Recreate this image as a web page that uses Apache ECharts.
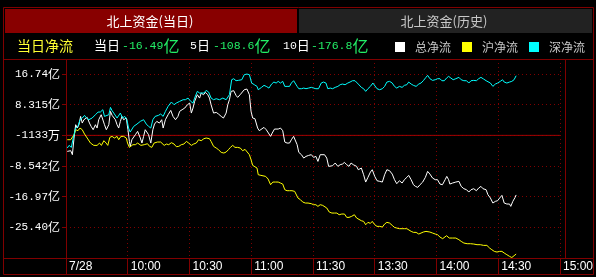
<!DOCTYPE html>
<html><head><meta charset="utf-8">
<script src="https://cdn.jsdelivr.net/npm/echarts@6/dist/echarts.min.js"></script>
<style>html,body{margin:0;padding:0;background:#000;}#c{width:596px;height:277px;}</style>
</head><body><div id="c"></div>
<script>
// x tick labels (minutes from 9:30, lunch break removed)
const timeTicks = ['7/28','10:00','10:30','11:00','11:30','13:30','14:00','14:30','15:00'];
// y axis tick labels (bottom to top)
const yTickLabels = ['-25.40亿','-16.97亿','-8.542亿','-1133万','8.315亿','16.74亿'];
const yMin = -33.8283, yStep = 8.4283, yMax = 20.88;
const seriesNames = ['总净流','沪净流','深净流'];
const summaryLabels = ['当日','5日','10日'];
const summaryValues = ['-16.49','-108.6','-176.8'];

// 总净流 [minute, 亿]
const totalFlow = [[0.6,-4.52],[1.5,-4.97],[2.3,-4.33],[3.1,-5.43],[3.9,-0.85],[4.7,2.81],[5.5,1.90],[6.3,2.81],[7.1,5.10],[7.9,3.27],[8.7,4.19],[9.5,3.73],[10.3,4.83],[11.4,3.27],[12.2,2.36],[13.2,1.44],[14.3,2.81],[15.1,1.90],[15.9,4.19],[17.1,5.56],[18.0,5.56],[18.7,2.81],[19.6,1.44],[20.8,2.81],[21.6,6.48],[22.4,5.38],[23.2,5.56],[24.0,4.19],[24.8,2.81],[25.6,1.90],[26.4,3.73],[27.2,5.10],[28.0,4.19],[29.3,4.65],[30.1,1.44],[30.8,-1.77],[31.2,-3.14],[32.0,-1.31],[32.9,-1.58],[33.7,0.07],[34.8,0.98],[36.1,-0.85],[36.9,-2.23],[37.7,-0.39],[38.5,1.44],[39.3,0.98],[40.1,0.07],[41.2,-2.23],[42.2,1.44],[43.0,3.00],[44.1,3.73],[45.4,3.27],[46.5,4.19],[47.2,1.90],[48.3,4.19],[49.6,5.56],[50.9,6.75],[52.0,5.10],[53.2,4.19],[54.4,5.10],[55.2,6.48],[56.4,6.94],[57.7,7.40],[59.0,8.31],[60.1,8.77],[60.9,6.02],[61.7,7.40],[62.5,9.23],[63.8,11.06],[64.9,10.14],[65.7,11.52],[66.8,11.06],[67.8,11.70],[68.9,11.06],[69.7,10.14],[70.5,8.31],[71.7,6.02],[73.0,6.20],[74.1,5.75],[75.4,5.10],[76.5,4.65],[77.8,6.02],[78.6,8.31],[79.4,9.69],[80.2,11.98],[81.5,12.16],[82.6,10.88],[83.4,10.33],[84.6,11.06],[85.5,11.52],[86.6,12.43],[87.9,12.62],[88.6,12.25],[89.1,11.06],[89.9,6.48],[90.7,4.65],[91.8,4.46],[93.1,1.90],[93.9,1.17],[94.7,1.44],[96.2,2.08],[97.3,1.44],[98.2,1.90],[99.4,-0.39],[100.2,0.52],[101.3,1.62],[102.1,2.08],[103.1,1.62],[104.2,1.90],[105.3,1.17],[106.3,-1.95],[107.4,-2.23],[108.6,-2.23],[109.5,-1.31],[110.6,-0.39],[111.5,-0.12],[112.3,-2.68],[113.1,-4.79],[114.4,-5.43],[115.5,-6.35],[116.6,-5.89],[117.9,-5.62],[119.2,-5.43],[120.3,-6.17],[121.4,-5.89],[122.4,-7.27],[123.5,-5.43],[124.3,-4.97],[125.6,-5.43],[126.7,-6.35],[127.6,-8.64],[128.4,-8.36],[129.5,-8.46],[130.8,-7.72],[132.1,-8.64],[133.2,-8.18],[134.3,-8.00],[135.3,-7.54],[136.4,-8.18],[137.5,-8.64],[138.5,-7.72],[139.6,-8.18],[140.4,-8.00],[141.2,-8.64],[142.0,-9.56],[143.5,-9.10],[144.6,-10.93],[145.6,-12.95],[146.7,-11.66],[147.9,-10.20],[148.8,-9.56],[150.0,-11.39],[151.1,-12.58],[152.4,-12.76],[153.7,-12.95],[154.8,-10.93],[155.9,-9.56],[157.2,-9.83],[158.5,-10.75],[159.6,-12.30],[160.7,-13.40],[162.0,-12.58],[163.3,-13.22],[164.4,-12.30],[165.6,-11.66],[166.5,-11.11],[167.7,-12.30],[168.8,-13.68],[169.8,-14.14],[170.9,-14.41],[172.0,-13.68],[173.3,-12.95],[174.6,-11.66],[175.7,-10.01],[176.8,-10.75],[178.1,-11.85],[179.4,-12.30],[180.5,-12.30],[181.7,-13.50],[182.9,-13.68],[184.2,-12.30],[185.0,-11.39],[185.9,-12.30],[186.5,-13.50],[187.8,-13.22],[189.4,-12.95],[190.9,-12.76],[192.0,-14.14],[193.3,-14.78],[194.6,-15.05],[195.7,-15.70],[196.8,-15.05],[198.1,-14.78],[199.4,-15.33],[200.5,-14.60],[201.6,-14.14],[202.6,-14.78],[204.1,-15.05],[205.0,-16.43],[206.2,-17.34],[207.4,-18.72],[208.6,-18.26],[209.7,-18.08],[210.7,-17.34],[211.8,-16.61],[212.9,-18.72],[214.2,-18.99],[215.5,-18.99],[216.1,-19.64],[217.1,-18.26],[218.2,-17.16],[218.7,-16.49]];

// 沪净流 [minute, 亿]
const shFlow = [[0.6,-1.31],[1.5,-0.85],[2.3,-1.31],[3.1,-1.58],[3.9,0.07],[4.7,1.44],[5.8,1.17],[6.8,1.90],[7.9,1.44],[9.0,0.25],[10.3,-0.85],[11.9,-2.23],[13.5,-2.87],[15.1,-2.87],[16.3,-2.23],[17.2,-2.87],[18.4,-1.58],[19.5,-2.23],[20.3,-2.87],[21.3,-0.67],[22.4,-0.39],[23.5,-0.85],[24.8,-0.39],[25.6,-1.31],[26.7,-0.39],[28.0,-0.39],[29.3,-0.85],[29.9,-2.23],[30.8,-3.42],[31.6,-3.78],[32.5,-2.68],[33.7,-2.68],[34.8,-2.23],[36.4,-2.87],[38.0,-2.68],[39.6,-2.41],[40.6,-3.14],[41.7,-3.42],[42.8,-2.23],[44.4,-1.95],[46.0,-1.95],[47.7,-2.87],[48.8,-2.50],[49.9,-2.68],[51.2,-2.13],[52.5,-2.50],[53.6,-3.23],[54.8,-3.14],[56.0,-2.68],[57.3,-2.50],[58.5,-1.77],[59.6,-2.23],[60.9,-2.87],[62.0,-2.50],[63.3,-2.23],[64.4,-1.31],[65.7,-1.58],[67.0,-1.03],[68.1,-0.85],[68.9,-0.67],[69.7,-1.03],[70.5,-1.77],[71.7,-3.14],[73.0,-3.60],[74.1,-4.06],[75.4,-4.79],[76.7,-4.97],[77.8,-4.70],[78.9,-4.06],[79.9,-3.42],[81.0,-2.87],[82.1,-3.42],[83.4,-3.42],[84.7,-3.60],[85.8,-4.33],[87.0,-3.97],[87.9,-4.06],[89.1,-5.43],[89.9,-6.81],[90.7,-8.36],[91.5,-8.64],[92.8,-9.10],[93.4,-10.93],[94.7,-11.11],[95.4,-11.20],[97.0,-11.39],[98.2,-12.12],[99.4,-13.68],[100.5,-12.95],[101.8,-12.95],[103.1,-12.95],[104.2,-13.22],[105.3,-13.50],[106.3,-15.05],[107.4,-15.33],[108.6,-15.33],[109.8,-15.33],[111.1,-15.51],[111.9,-15.97],[112.7,-17.34],[113.9,-17.80],[115.0,-18.44],[116.3,-18.72],[117.6,-18.72],[119.2,-18.90],[120.3,-19.18],[121.4,-19.18],[122.4,-19.64],[123.5,-19.18],[124.7,-19.36],[125.6,-19.18],[126.7,-20.09],[127.9,-21.19],[129.2,-21.47],[130.5,-21.47],[131.6,-21.47],[132.7,-21.93],[134.0,-21.74],[135.3,-21.74],[136.4,-22.66],[137.5,-22.66],[138.8,-22.38],[140.1,-21.93],[141.2,-22.84],[142.0,-23.03],[143.5,-23.58],[144.6,-23.76],[145.6,-24.68],[146.7,-24.03],[147.9,-24.31],[148.8,-23.76],[150.0,-24.68],[151.1,-25.13],[152.4,-25.13],[153.7,-25.32],[154.8,-24.49],[155.9,-24.03],[157.2,-24.22],[158.5,-24.86],[159.6,-25.41],[160.7,-25.59],[162.0,-25.77],[163.3,-25.77],[164.4,-25.77],[165.6,-25.77],[166.5,-26.05],[167.7,-26.51],[168.8,-26.78],[170.1,-26.78],[171.4,-27.24],[172.5,-26.97],[173.6,-26.69],[174.9,-26.51],[175.7,-26.23],[176.8,-26.69],[178.1,-26.97],[179.4,-27.24],[180.5,-27.42],[181.7,-28.07],[183.0,-28.52],[183.8,-28.34],[184.9,-27.70],[186.2,-28.34],[187.8,-28.34],[189.4,-28.34],[190.9,-28.80],[192.0,-29.26],[193.3,-29.71],[194.9,-29.90],[196.5,-29.90],[198.1,-29.99],[199.7,-30.17],[201.3,-30.17],[202.9,-30.36],[204.5,-30.36],[205.8,-31.09],[206.9,-31.55],[208.1,-32.01],[209.4,-32.19],[210.7,-32.01],[211.8,-32.01],[212.9,-32.46],[214.2,-32.92],[215.5,-33.38],[216.6,-33.70],[217.7,-33.20],[218.7,-32.74]];

// 深净流 [minute, 亿]
const szFlow = [[0.6,-3.60],[1.5,-2.87],[2.6,-3.42],[3.5,-0.85],[4.7,1.90],[5.8,2.36],[6.8,4.19],[7.9,4.65],[9.0,5.38],[10.0,4.65],[11.1,4.19],[12.7,4.65],[14.3,5.56],[15.6,6.30],[16.7,6.30],[17.9,6.94],[18.7,5.10],[19.6,4.65],[20.8,5.56],[21.6,7.58],[22.4,6.66],[23.2,6.02],[24.0,6.48],[24.8,4.65],[25.6,5.10],[26.4,6.02],[27.5,4.65],[28.5,5.10],[29.6,4.19],[30.4,1.90],[31.2,0.80],[32.0,1.17],[32.9,2.36],[34.5,3.00],[36.1,3.73],[37.7,4.19],[39.0,3.00],[40.1,2.36],[41.2,1.90],[42.2,4.19],[43.3,5.10],[44.9,5.38],[46.0,5.75],[47.2,5.10],[48.3,6.48],[49.6,7.85],[51.2,9.05],[52.5,8.31],[53.6,8.77],[55.2,9.23],[56.9,9.69],[58.0,9.69],[59.3,10.14],[60.6,9.23],[61.7,8.77],[62.5,10.14],[63.8,11.98],[64.9,11.52],[65.7,11.98],[67.0,11.52],[68.1,12.25],[69.3,11.79],[70.5,10.14],[71.7,9.69],[73.0,9.96],[74.6,9.69],[76.2,10.14],[77.8,9.69],[79.4,11.06],[80.5,15.18],[81.5,15.46],[82.6,14.91],[83.7,15.00],[85.4,15.18],[86.6,16.56],[87.9,16.74],[89.1,16.56],[90.2,14.27],[91.5,13.81],[92.8,13.35],[93.4,12.43],[95.0,13.08],[96.2,13.63],[97.3,13.35],[98.6,12.89],[99.9,13.99],[101.0,14.54],[102.1,14.27],[103.1,14.73],[104.2,14.27],[105.3,14.73],[106.3,13.35],[107.4,13.35],[108.6,13.35],[109.5,14.27],[110.6,14.91],[111.5,14.73],[112.3,13.35],[113.1,12.71],[114.4,12.71],[115.5,12.89],[116.6,12.71],[117.9,12.89],[119.2,13.08],[120.3,12.89],[121.4,12.71],[122.7,12.71],[124.0,14.27],[125.1,14.54],[126.3,14.27],[127.2,12.71],[128.4,12.89],[129.5,12.71],[130.8,13.08],[132.1,13.35],[133.2,13.81],[134.3,13.99],[135.6,13.81],[136.9,14.27],[138.0,14.54],[139.2,14.91],[140.4,14.91],[142.0,13.99],[143.5,13.08],[144.6,12.71],[145.6,11.98],[146.7,12.71],[147.9,13.35],[149.1,14.27],[150.0,13.81],[151.1,12.71],[152.4,12.43],[153.7,12.71],[154.8,13.35],[155.9,14.54],[157.2,14.73],[158.5,14.27],[159.6,13.35],[160.7,12.89],[162.0,13.35],[163.3,13.08],[164.4,13.63],[165.6,13.81],[166.5,14.54],[167.7,13.99],[168.8,13.63],[170.1,13.35],[171.4,13.99],[172.5,14.27],[173.6,14.91],[174.9,15.83],[175.7,16.38],[176.8,15.46],[178.1,15.00],[179.4,15.18],[180.5,15.46],[181.7,15.46],[182.6,14.91],[183.8,14.91],[184.9,15.64],[185.9,16.10],[187.0,15.64],[188.1,15.18],[189.4,15.46],[190.9,15.83],[192.0,15.18],[193.3,14.91],[194.6,14.91],[195.7,14.27],[196.8,14.91],[198.1,15.00],[199.4,14.91],[200.5,15.46],[201.6,15.83],[202.9,15.37],[204.1,14.91],[205.0,15.18],[206.2,14.27],[207.4,13.35],[208.6,13.99],[209.7,14.27],[211.0,14.73],[212.1,15.18],[212.9,14.54],[214.2,14.27],[215.5,14.54],[216.6,14.73],[217.7,15.18],[218.7,16.28]];

const RED = '#800000';
const CJK = '"Noto Sans CJK SC"';
const MONO = '"Liberation Mono"';

const chart = echarts.init(document.getElementById('c'), null, {renderer: 'canvas'});

function yLabel(v) {
  const k = Math.round((v - yMin) / yStep);
  if (Math.abs(v - (yMin + k * yStep)) > 1e-6 || k < 1 || k > yTickLabels.length) return '';
  const s = yTickLabels[k - 1];
  return '{n|' + s.slice(0, -1) + '}{u|' + s.slice(-1) + '}';
}

function line(x1, y1, x2, y2) {
  return {type: 'line', silent: true, shape: {x1, y1, x2, y2}, style: {stroke: RED, lineWidth: 1}, z: 10};
}
function valText(x, label, color) {
  return {type: 'text', x: x, y: 45.5, silent: true, style: {
    text: '{n|' + label.replace(/[亿日]$/, '') + '}{u|' + label.slice(-1) + '}',
    verticalAlign: 'middle',
    rich: {
      n: {fontFamily: MONO, fontSize: 11.5, fill: color, color: color},
      u: {fontFamily: CJK, fontSize: color === '#fff' ? 13 : 16, fill: color, color: color}
    }
  }};
}

const graphics = [
  {type: 'rect', silent: true, shape: {x: 3.5, y: 7.5, width: 590, height: 267}, style: {fill: 'none', stroke: RED, lineWidth: 1}},
  {type: 'rect', silent: true, shape: {x: 5, y: 9, width: 292, height: 24}, style: {fill: '#880000'}},
  {type: 'rect', silent: true, shape: {x: 299, y: 9, width: 293, height: 24}, style: {fill: '#222222'}},
  {type: 'text', silent: true, x: 150, y: 21, style: {text: '北上资金(当日)', fill: '#ffffff', font: '13px ' + CJK, align: 'center', verticalAlign: 'middle'}},
  {type: 'text', silent: true, x: 444, y: 21, style: {text: '北上资金(历史)', fill: '#c8c8c8', font: '13px ' + CJK, align: 'center', verticalAlign: 'middle'}},
  {type: 'text', silent: true, x: 17, y: 45.5, style: {text: '当日净流', fill: '#ffff33', font: '14px ' + CJK, verticalAlign: 'middle'}},
  {type: 'text', silent: true, x: 94, y: 45.5, style: {text: summaryLabels[0], fill: '#ffffff', font: '13px ' + CJK, verticalAlign: 'middle'}},
  valText(122, summaryValues[0] + '亿', '#22ee66'),
  valText(190, summaryLabels[1], '#fff'),
  valText(213, summaryValues[1] + '亿', '#22ee66'),
  valText(283, summaryLabels[2], '#fff'),
  valText(311, summaryValues[2] + '亿', '#22ee66'),
  line(3, 59.5, 593, 59.5),
  line(3, 258.5, 593, 258.5),
  line(66.5, 59, 66.5, 275),
  line(565.5, 59, 565.5, 258)
];

const colors = ['#ffffff', '#ffff00', '#00ffff'];
const datasets = [totalFlow, shFlow, szFlow];
const centreValue = yMin + 4 * yStep; // the -1133万 tick

const series = [{
  name: 'centre', type: 'line', silent: true, showSymbol: false, symbol: 'none', z: 2,
  data: [[0, centreValue], [240, centreValue]],
  lineStyle: {color: '#a00000', width: 1, type: 'solid'},
  emphasis: {disabled: true}
}].concat(seriesNames.map((name, i) => ({
  name: name, type: 'line', data: datasets[i], showSymbol: false, symbol: 'none',
  lineStyle: {color: colors[i], width: 1}, itemStyle: {color: colors[i]},
  emphasis: {disabled: true},
  z: 3 + i
})));

chart.setOption({
  backgroundColor: '#000000',
  animation: false,
  grid: {left: 66, right: 33.3, top: 59, bottom: 19},
  legend: {
    left: 395, top: 41, padding: 0, itemWidth: 10, itemHeight: 10, itemGap: 11, icon: 'rect',
    selectedMode: false,
    textStyle: {color: '#c8c8c8', fontSize: 12, fontFamily: 'Noto Sans CJK SC', padding: [0, 0, 0, 5]},
    data: seriesNames
  },
  xAxis: {
    type: 'value', min: 0, max: 240, interval: 30,
    axisLine: {show: false, onZero: false},
    axisTick: {show: true, length: 17, lineStyle: {color: RED}},
    axisLabel: {
      formatter: v => timeTicks[Math.round(v / 30)] || '',
      color: '#ffffff', fontSize: 12, fontFamily: 'Liberation Sans',
      align: 'left', margin: 3, padding: [0, 0, 0, 3],
      showMinLabel: true, showMaxLabel: true
    },
    splitLine: {show: true, lineStyle: {color: RED, type: [1, 3]}}
  },
  yAxis: {
    type: 'value', min: yMin, max: yMax, interval: yStep,
    axisLine: {show: false, onZero: false},
    axisTick: {show: true, length: 4, lineStyle: {color: RED}},
    axisLabel: {
      formatter: yLabel, margin: 6,
      rich: {
        n: {fontFamily: 'Liberation Mono', fontSize: 11, color: '#ffffff'},
        u: {fontFamily: 'Noto Sans CJK SC', fontSize: 12, color: '#ffffff'}
      }
    },
    splitLine: {show: true, lineStyle: {color: RED, type: [1, 3]}}
  },
  series: series,
  graphic: graphics
});
</script>
</body></html>
